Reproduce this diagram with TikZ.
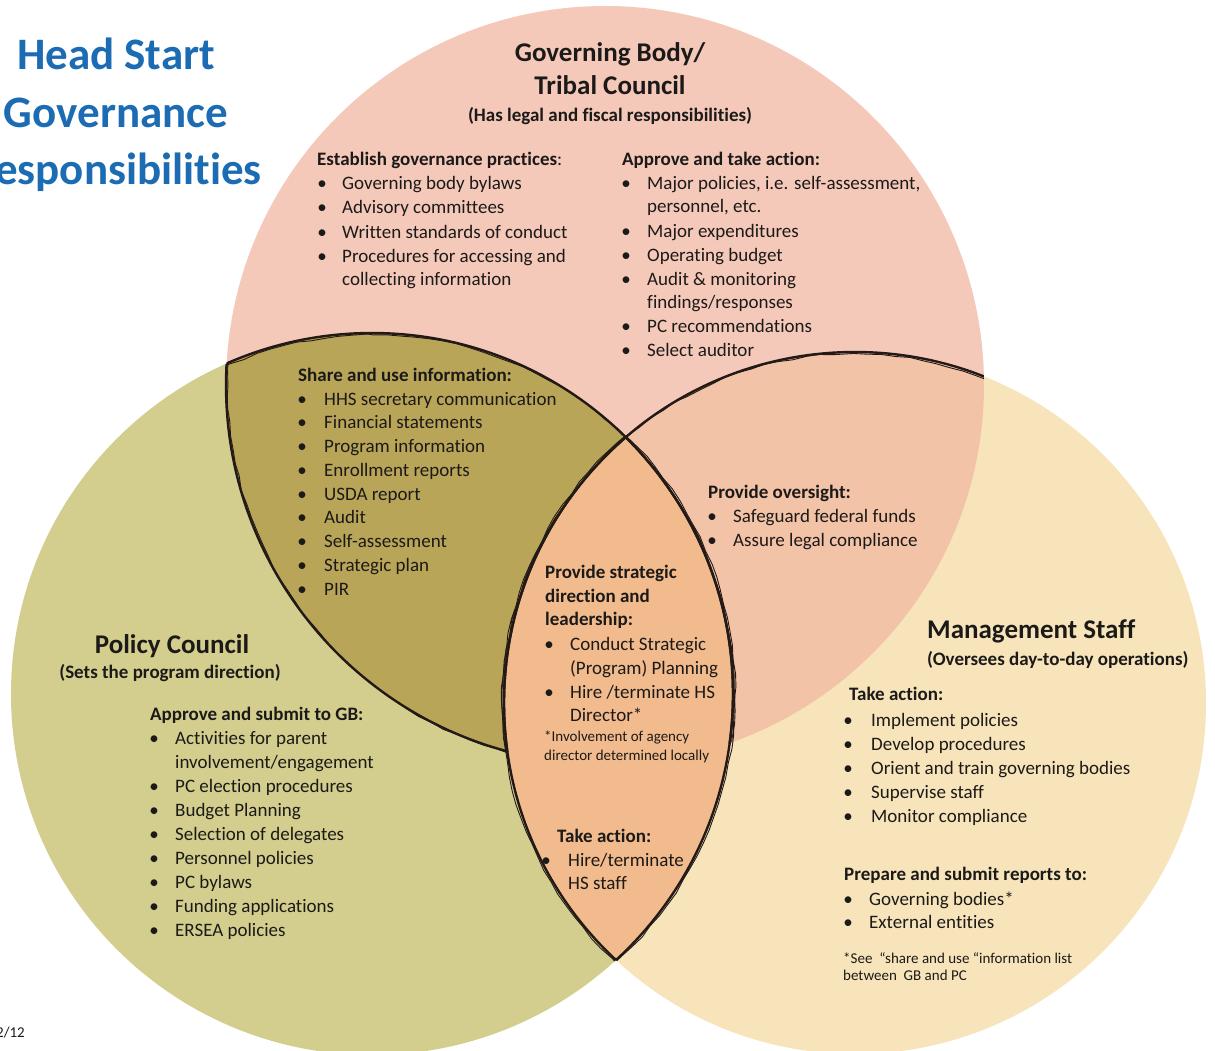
\documentclass[tikz,border=0pt]{standalone}
\usepackage{fontspec}
\setmainfont{Carlito}[Ligatures={NoCommon,NoRequired,NoContextual}]
\usetikzlibrary{decorations.pathmorphing}
\definecolor{gbc}{HTML}{F5C9BA}
\definecolor{pcc}{HTML}{D3CE8D}
\definecolor{msc}{HTML}{F7E4BA}
\definecolor{sharec}{HTML}{B9A558}
\definecolor{overc}{HTML}{F3C3A7}
\definecolor{lensc}{HTML}{F2BB8D}
\definecolor{ink}{HTML}{1C1A18}
\definecolor{sketch}{HTML}{231A17}
\definecolor{hsblue}{HTML}{1C6CB4}
\newcommand\bodyf{\fontsize{19}{24}\selectfont}
\newcommand\Li[5]{\node[bul] (#1b) at (#2,#4) {•};\node[txt] (#1) at (#3,#4) {#5};}
\newcommand\Lc[4]{\node[txt] (#1) at (#2,#3) {#4};}
\begin{document}
\begin{tikzpicture}[x=1pt,y=-1pt,
  txt/.style={anchor=base west,inner sep=0pt,font=\bodyf,text=ink},
  bul/.style={anchor=base,inner sep=0pt,font=\bodyf,text=ink},
  hdr/.style={txt,font=\bodyf\bfseries},
  head/.style={anchor=base,inner sep=0pt,font=\fontsize{27}{33}\selectfont\bfseries,text=ink},
  subh/.style={anchor=base,inner sep=0pt,font=\bodyf\bfseries,text=ink},
  small/.style={anchor=base west,inner sep=0pt,font=\fontsize{15}{18}\selectfont,text=ink},
  ttl/.style={anchor=base,inner sep=0pt,font=\fontsize{45}{58}\selectfont\bfseries,text=hsblue},
  sk/.style={draw=sketch,line width=2.4pt},
  sktwo/.style={draw=sketch,line width=0.9pt,decorate,decoration={random steps,segment length=14pt,amplitude=0.9pt}}]
\useasboundingbox (0,0) rectangle (1215,1051);
\clip (0,0) rectangle (1215,1051);
\fill[white] (0,0) rectangle (1215,1051);
\def\GB{(605,385) circle[radius=379]}
\def\PC{(372,694) circle[radius=361]}
\def\MS{(855,703) circle[radius=351]}
% fills
\fill[gbc] \GB;
\fill[pcc] \PC;
\fill[msc] \MS;
\begin{scope}
  \clip \GB;
  \fill[sharec] \PC;
  \fill[overc] \MS;
\end{scope}
% GB lower-left outline (inside PC)
\begin{scope}
  \clip \PC;
  \draw[sk] \GB;
  \draw[sktwo,shift={(2,1.5)}] \GB;
\end{scope}
% lens
\begin{scope}
  \clip \PC;
  \fill[lensc] \MS;
\end{scope}
% outlines of PC and MS circles
\begin{scope}
  \clip \GB;
  \draw[sk] \PC;
  \draw[sktwo,shift={(1.5,2)}] \PC;
  \draw[sk] \MS;
  \draw[sktwo,shift={(-1.5,2)}] \MS;
\end{scope}
\begin{scope}
  \clip \MS;
  \draw[sk] \PC;
  \draw[sktwo,shift={(2,0)}] \PC;
\end{scope}
\begin{scope}
  \clip \PC;
  \draw[sk] \MS;
  \draw[sktwo,shift={(-2,0)}] \MS;
\end{scope}
% main title
\node[ttl] (t1) at (116,70) {Head Start};
\node[ttl] (t2) at (116,128) {Governance};
\node[ttl] (t3) at (116,185) {Responsibilities};
% Governing body
\node[head] (gbT1) at (610,62) {Governing Body/};
\node[head] (gbT2) at (610,95) {Tribal Council};
\node[subh] (gbT3) at (610,122) {(Has legal and fiscal responsibilities)};
\node[hdr] (gbLh) at (317,166) {Establish governance practices\mdseries:};
\Li{gbL1}{322}{342}{190}{Governing body bylaws}
\Li{gbL2}{322}{342}{214}{Advisory committees}
\Li{gbL3}{322}{342}{238}{Written standards of conduct}
\Li{gbL4}{322}{342}{262}{Procedures for accessing and}
\Lc{gbL5}{342}{285}{collecting information}
\node[hdr] (gbRh) at (622,166) {Approve and take action:};
\Li{gbR1}{626}{647}{190}{Major policies, i.e. self-assessment,}
\Lc{gbR2}{647}{213}{personnel, etc.}
\Li{gbR3}{626}{647}{237}{Major expenditures}
\Li{gbR4}{626}{647}{261}{Operating budget}
\Li{gbR5}{626}{647}{285}{Audit \& monitoring}
\Lc{gbR6}{647}{308}{findings/responses}
\Li{gbR7}{626}{647}{332}{PC recommendations}
\Li{gbR8}{626}{647}{356}{Select auditor}
% share and use
\node[hdr] (shh) at (298,381) {Share and use information:};
\Li{sh1}{302}{324}{405}{HHS secretary communication}
\Li{sh2}{302}{324}{428}{Financial statements}
\Li{sh3}{302}{324}{452}{Program information}
\Li{sh4}{302}{324}{476}{Enrollment reports}
\Li{sh5}{302}{324}{500}{USDA report}
\Li{sh6}{302}{324}{523}{Audit}
\Li{sh7}{302}{324}{547}{Self-assessment}
\Li{sh8}{302}{324}{571}{Strategic plan}
\Li{sh9}{302}{324}{595}{PIR}
% oversight
\node[hdr] (ovh) at (708,498) {Provide oversight:};
\Li{ov1}{712}{733}{522}{Safeguard federal funds}
\Li{ov2}{712}{733}{546}{Assure legal compliance}
% strategic direction
\node[hdr] (sdh1) at (545,578) {Provide strategic};
\node[hdr] (sdh2) at (545,602) {direction and};
\node[hdr] (sdh3) at (545,625) {leadership:};
\Li{sd1}{549}{570}{650}{Conduct Strategic}
\Lc{sd2}{570}{674}{(Program) Planning}
\Li{sd3}{549}{570}{698}{Hire /terminate HS}
\Lc{sd4}{570}{721}{Director*}
\node[small] (sdn1) at (544,741) {*Involvement of agency};
\node[small] (sdn2) at (544,760) {director determined locally};
% lens take action
\node[hdr] (lth) at (557,842) {Take action:};
\Li{lt1}{546}{568}{866}{Hire/terminate}
\Lc{lt2}{568}{889}{HS staff}
% policy council
\node[head] (pcT1) at (172,653) {Policy Council};
\node[subh] (pcT2) at (170,678) {(Sets the program direction)};
\node[hdr] (pch) at (150,720) {Approve and submit to GB:};
\Li{pc1}{154}{175}{744}{Activities for parent}
\Lc{pc2}{175}{768}{involvement/engagement}
\Li{pc3}{154}{175}{792}{PC election procedures}
\Li{pc4}{154}{175}{816}{Budget Planning}
\Li{pc5}{154}{175}{840}{Selection of delegates}
\Li{pc6}{154}{175}{864}{Personnel policies}
\Li{pc7}{154}{175}{888}{PC bylaws}
\Li{pc8}{154}{175}{912}{Funding applications}
\Li{pc9}{154}{175}{936}{ERSEA policies}
\node[small,anchor=base east] (pg) at (25,1037) {2/12};
% management staff
\node[head,anchor=base west] (msT1) at (927,638) {Management Staff};
\node[subh,anchor=base west] (msT2) at (927,665) {(Oversees day-to-day operations)};
\node[hdr] (msh1) at (849,700) {Take action:};
\Li{ms1}{848}{871}{726}{Implement policies}
\Li{ms2}{848}{871}{750}{Develop procedures}
\Li{ms3}{848}{871}{774}{Orient and train governing bodies}
\Li{ms4}{848}{871}{798}{Supervise staff}
\Li{ms5}{848}{871}{822}{Monitor compliance}
\node[hdr] (msh2) at (844,880) {Prepare and submit reports to:};
\Li{ms6}{848}{869}{905}{Governing bodies*}
\Li{ms7}{848}{869}{928}{External entities}
\node[small] (msn1) at (843,963) {*See~ “share and use “information list};
\node[small] (msn2) at (843,980) {between~ GB and PC};
\end{tikzpicture}
\end{document}
